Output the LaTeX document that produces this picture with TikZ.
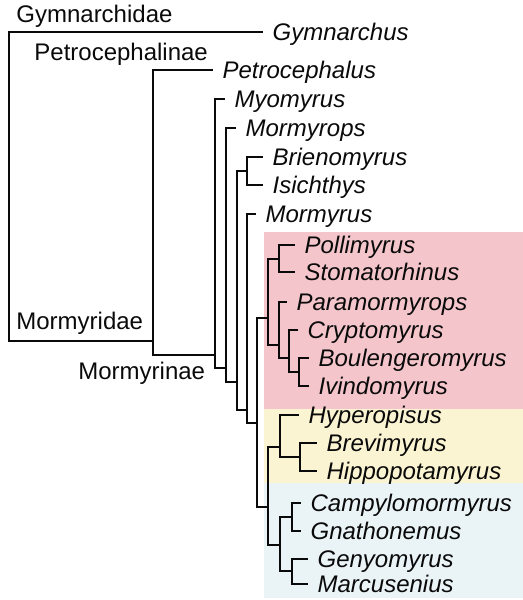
\documentclass[tikz,border=0pt]{standalone}
\usepackage{fontspec}
\setmainfont{Liberation Sans}
\definecolor{mfInk}{HTML}{0A0A0A}
\definecolor{mfRose}{HTML}{F4C6CB}
\definecolor{mfSand}{HTML}{FBF4D2}
\definecolor{mfSky}{HTML}{EAF3F6}
\tikzset{
 tree/.style={x=.5pt,y=-.5pt,font=\fontsize{12}{14}\selectfont,line join=miter,text=mfInk},
 branch/.style={draw=mfInk,line width=1.3pt},
 taxon/.style={anchor=west,font=\fontsize{12}{14}\selectfont\itshape,inner xsep=4.6pt,
   inner ysep=0pt,text height=8.7pt,text depth=0pt},
 family/.style={anchor=base west,inner sep=0pt},
 cladebox/.style={draw=none}
}

\begin{document}
\begin{tikzpicture}[tree]
 \useasboundingbox (0,0) rectangle (523,600);
 % clade boxes
 \fill[cladebox,fill=mfRose] (264,232) rectangle (523,409);
 \fill[cladebox,fill=mfSand] (264,409) rectangle (523,483);
 \fill[cladebox,fill=mfSky] (264,483) rectangle (523,598);
 % leaves
 \node[taxon] (gymnarchus) at (263,32) {Gymnarchus};
 \node[taxon] (petrocephalus) at (213,70) {Petrocephalus};
 \node[taxon] (myomyrus) at (225,99) {Myomyrus};
 \node[taxon] (mormyrops) at (236,128) {Mormyrops};
 \node[taxon] (brienomyrus) at (263,157) {Brienomyrus};
 \node[taxon] (isichthys) at (263,185) {Isichthys};
 \node[taxon] (mormyrus) at (256,214) {Mormyrus};
 \node[taxon] (pollimyrus) at (295,245) {Pollimyrus};
 \node[taxon] (stomatorhinus) at (295,272) {Stomatorhinus};
 \node[taxon] (paramormyrops) at (287,302) {Paramormyrops};
 \node[taxon] (cryptomyrus) at (298,330) {Cryptomyrus};
 \node[taxon] (boulengeromyrus) at (309,358) {Boulengeromyrus};
 \node[taxon] (ivindomyrus) at (309,386) {Ivindomyrus};
 \node[taxon] (hyperopisus) at (299,415) {Hyperopisus};
 \node[taxon] (brevimyrus) at (317,443) {Brevimyrus};
 \node[taxon] (hippopotamyrus) at (317,471) {Hippopotamyrus};
 \node[taxon] (campylomormyrus) at (301,503) {Campylomormyrus};
 \node[taxon] (gnathonemus) at (301,531) {Gnathonemus};
 \node[taxon] (genyomyrus) at (308,559) {Genyomyrus};
 \node[taxon] (marcusenius) at (308,584) {Marcusenius};
 % inner nodes
 \coordinate (root) at (9,186); \coordinate (mormyridae) at (153,341);
 \coordinate (mormyrinae) at (215,355); \coordinate (nA) at (226,368);
 \coordinate (nB) at (237,382); \coordinate (nBI) at (247,171);
 \coordinate (nC) at (247,410); \coordinate (nD) at (257,423);
 \coordinate (rose) at (268,318); \coordinate (nPS) at (279,259);
 \coordinate (nPC) at (279,345); \coordinate (nCB) at (289,358);
 \coordinate (nBIv) at (299,372); \coordinate (nYB) at (268,507);
 \coordinate (sand) at (280,447); \coordinate (nBH) at (300,457);
 \coordinate (sky) at (280,545); \coordinate (nCG) at (292,517);
 \coordinate (nGM) at (292,571);
 \foreach \p/\c in {root/gymnarchus.west,root/mormyridae,
   mormyridae/petrocephalus.west,mormyridae/mormyrinae,
   mormyrinae/myomyrus.west,mormyrinae/nA,nA/mormyrops.west,nA/nB,
   nB/nBI,nB/nC,nBI/brienomyrus.west,nBI/isichthys.west,
   nC/mormyrus.west,nC/nD,nD/rose,nD/nYB,
   rose/nPS,rose/nPC,nPS/pollimyrus.west,nPS/stomatorhinus.west,
   nPC/paramormyrops.west,nPC/nCB,nCB/cryptomyrus.west,nCB/nBIv,
   nBIv/boulengeromyrus.west,nBIv/ivindomyrus.west,
   nYB/sand,nYB/sky,sand/hyperopisus.west,sand/nBH,
   nBH/brevimyrus.west,nBH/hippopotamyrus.west,
   sky/nCG,sky/nGM,nCG/campylomormyrus.west,nCG/gnathonemus.west,
   nGM/genyomyrus.west,nGM/marcusenius.west}
   \draw[branch] (\p) |- (\c);
 % group names
 \node[family] (gymnarchidae) at (16,22) {Gymnarchidae};
 \node[family] (petrocephalinae) at (34,60) {Petrocephalinae};
 \node[family] (mormyridaeName) at (16,329) {Mormyridae};
 \node[family] (mormyrinaeName) at (78,379) {Mormyrinae};
\end{tikzpicture}
\end{document}
